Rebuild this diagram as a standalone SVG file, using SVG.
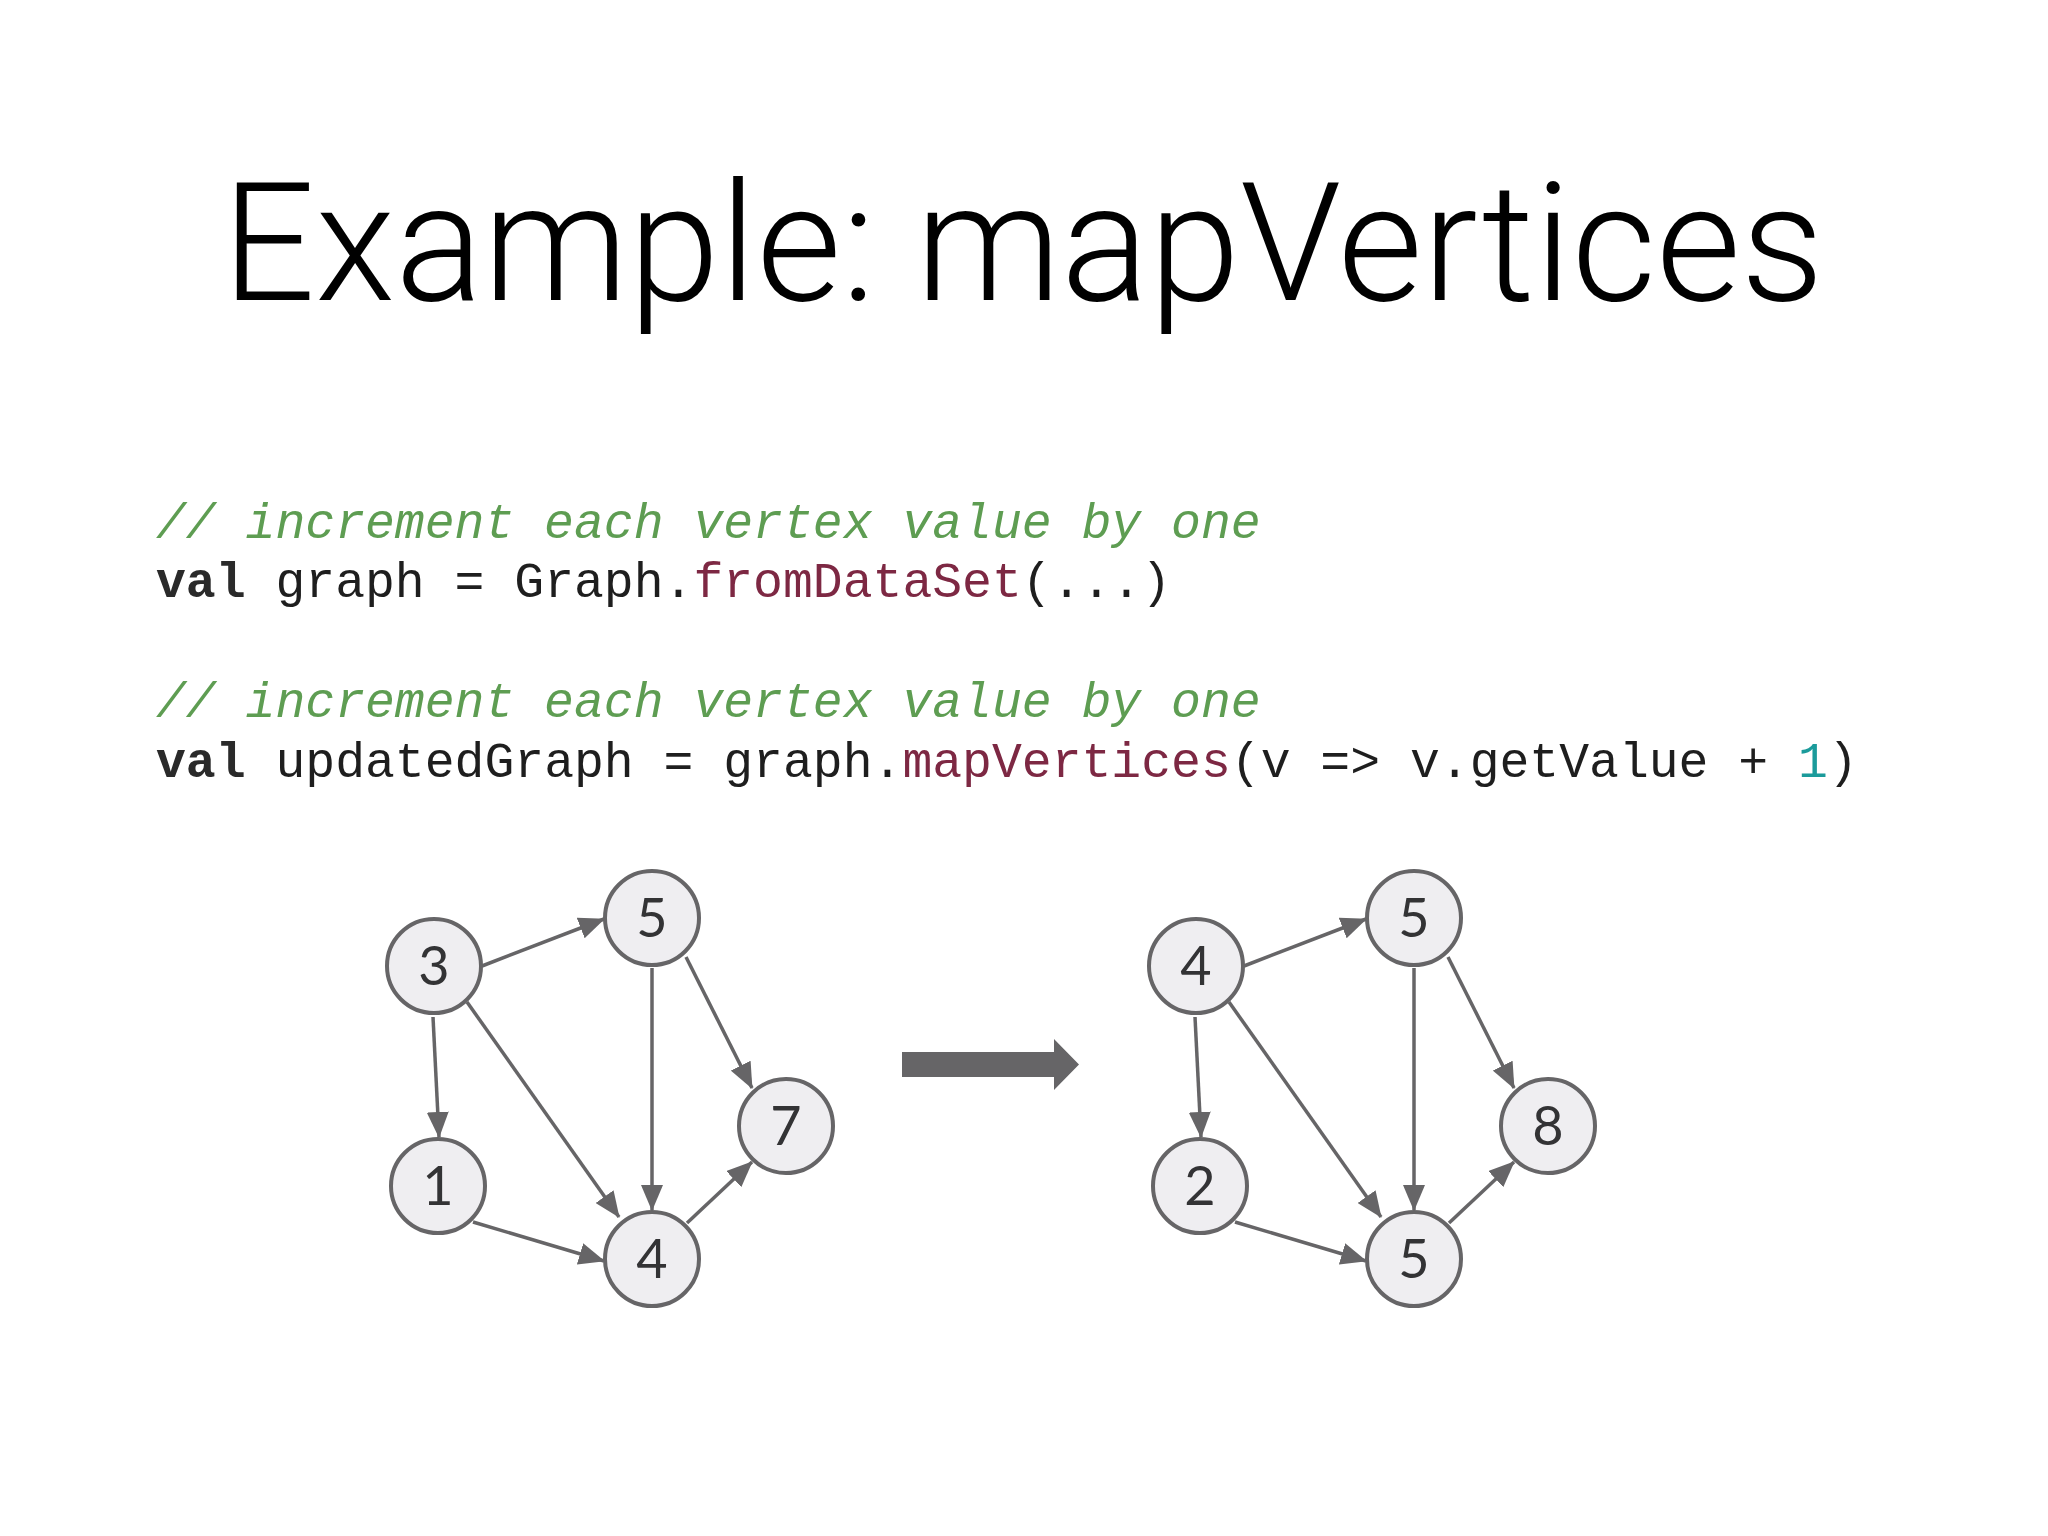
<svg xmlns="http://www.w3.org/2000/svg" width="2048" height="1536" viewBox="0 0 2048 1536">
<style>
.title{font-family:Roboto,"Liberation Sans",sans-serif;font-weight:300;font-size:166px;fill:#000}
.code{font-family:"Liberation Mono","DejaVu Sans Mono",monospace;font-size:49.75px;fill:#1e1e1e;white-space:pre}
.cm{fill:#5e9d52;font-style:italic}
.kw{font-weight:bold;fill:#2a2a2a}
.fn{fill:#7d2843}
.num{fill:#1b9b9b}
.node circle{fill:#efeef1;stroke:#666567;stroke-width:4}
.node text{font-family:Lato,"Open Sans",sans-serif;font-size:54px;fill:#333335;text-anchor:middle}
.edge{stroke:#666567;stroke-width:3.5;fill:none;marker-end:url(#ah)}
</style>
<defs>
<marker id="ah" markerUnits="userSpaceOnUse" markerWidth="26" markerHeight="22" refX="25" refY="11" orient="auto" viewBox="0 0 26 22">
<path d="M0,0 L26,11 L0,22 z" fill="#666567"/>
</marker>
</defs>
<rect width="2048" height="1536" fill="#fff"/>
<text class="title" x="222" y="300" textLength="1602" lengthAdjust="spacingAndGlyphs">Example: mapVertices</text>
<g id="code">
<text class="code cm" x="156" y="538" xml:space="preserve">// increment each vertex value by one</text>
<text class="code" x="156" y="597" xml:space="preserve"><tspan class="kw">val</tspan> graph = Graph.<tspan class="fn">fromDataSet</tspan>(...)</text>
<text class="code cm" x="156" y="717" xml:space="preserve">// increment each vertex value by one</text>
<text class="code" x="156" y="777" xml:space="preserve"><tspan class="kw">val</tspan> updatedGraph = graph.<tspan class="fn">mapVertices</tspan>(v =&gt; v.getValue + <tspan class="num">1</tspan>)</text>
</g>
<g id="connectors">
<line class="edge" x1="482" y1="966" x2="604" y2="919"/>
<line class="edge" x1="433" y1="1017" x2="439" y2="1137"/>
<line class="edge" x1="467" y1="1002" x2="619" y2="1217"/>
<line class="edge" x1="652" y1="968" x2="652" y2="1210"/>
<line class="edge" x1="686" y1="957" x2="752" y2="1088"/>
<line class="edge" x1="473" y1="1222" x2="604" y2="1261"/>
<line class="edge" x1="687" y1="1223" x2="752" y2="1162"/>
<g transform="translate(762,0)">
<line class="edge" x1="482" y1="966" x2="604" y2="919"/>
<line class="edge" x1="433" y1="1017" x2="439" y2="1137"/>
<line class="edge" x1="467" y1="1002" x2="619" y2="1217"/>
<line class="edge" x1="652" y1="968" x2="652" y2="1210"/>
<line class="edge" x1="686" y1="957" x2="752" y2="1088"/>
<line class="edge" x1="473" y1="1222" x2="604" y2="1261"/>
<line class="edge" x1="687" y1="1223" x2="752" y2="1162"/>
</g>
</g>
<g id="bigarrow">
<path d="M902,1052 L1054,1052 L1054,1039 L1079,1064.5 L1054,1090 L1054,1077 L902,1077 z" fill="#666567"/>
</g>
<g id="left-3" class="node"><circle cx="434" cy="966" r="47"/><text x="434" y="985">3</text></g>
<g id="left-5" class="node"><circle cx="652" cy="918" r="47"/><text x="652" y="937">5</text></g>
<g id="left-7" class="node"><circle cx="786" cy="1126" r="47"/><text x="786" y="1145">7</text></g>
<g id="left-1" class="node"><circle cx="438" cy="1186" r="47"/><text x="438" y="1205">1</text></g>
<g id="left-4" class="node"><circle cx="652" cy="1259" r="47"/><text x="652" y="1278">4</text></g>
<g id="right-4" class="node"><circle cx="1196" cy="966" r="47"/><text x="1196" y="985">4</text></g>
<g id="right-5a" class="node"><circle cx="1414" cy="918" r="47"/><text x="1414" y="937">5</text></g>
<g id="right-8" class="node"><circle cx="1548" cy="1126" r="47"/><text x="1548" y="1145">8</text></g>
<g id="right-2" class="node"><circle cx="1200" cy="1186" r="47"/><text x="1200" y="1205">2</text></g>
<g id="right-5b" class="node"><circle cx="1414" cy="1259" r="47"/><text x="1414" y="1278">5</text></g>
</svg>
